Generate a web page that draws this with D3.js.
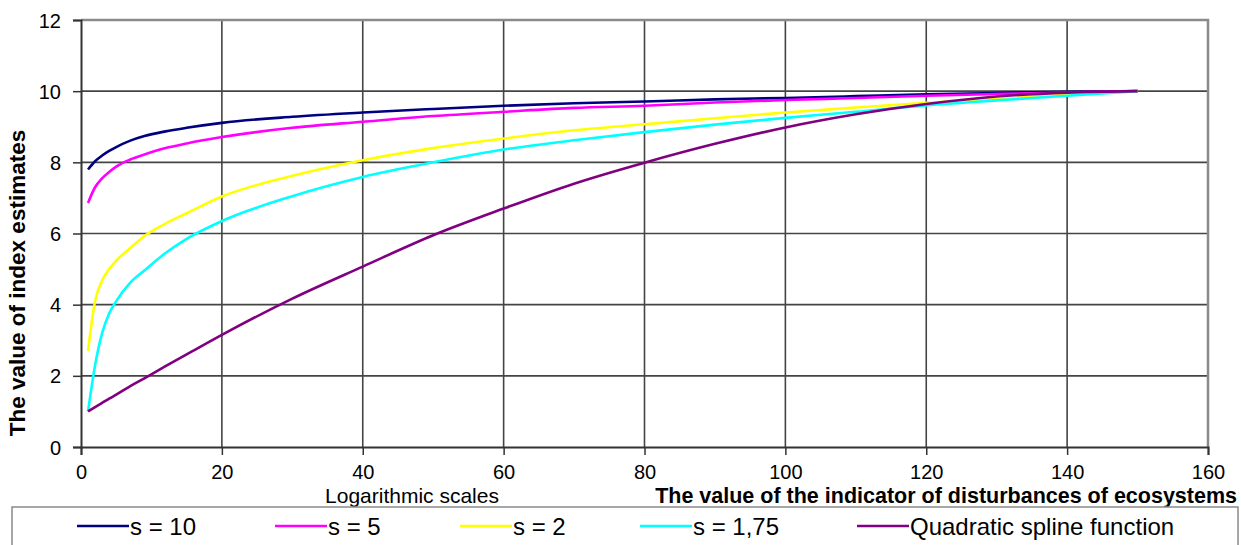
<!DOCTYPE html>
<html>
<head>
<meta charset="utf-8">
<script src="https://cdn.jsdelivr.net/npm/d3@7"></script>
<style>
  body { margin: 0; background: #fff; }
  svg { display: block; font-family: "Liberation Sans", Arial, sans-serif; }
</style>
</head>
<body>
<svg></svg>
<script>
const [WIDTH, HEIGHT] = [1241, 545]

// x values shared by all series
const xValues = [1, 2, 3, 4, 5, 7, 9, 12, 15, 20, 30, 40, 50, 60, 70, 80, 90, 100, 110, 120, 130, 140, 150]

const s10 = [7.80, 8.03, 8.19, 8.32, 8.43, 8.61, 8.74, 8.87, 8.97, 9.11, 9.28, 9.40, 9.50, 9.59, 9.66, 9.71, 9.77, 9.81, 9.86, 9.91, 9.95, 9.98, 10.0]
const s5 = [6.86, 7.30, 7.55, 7.73, 7.88, 8.08, 8.22, 8.40, 8.53, 8.71, 8.97, 9.14, 9.30, 9.42, 9.53, 9.59, 9.68, 9.75, 9.81, 9.87, 9.92, 9.96, 10.0]
const s2 = [2.70, 4.10, 4.68, 5.00, 5.24, 5.59, 5.93, 6.28, 6.57, 7.04, 7.62, 8.06, 8.40, 8.67, 8.90, 9.07, 9.24, 9.40, 9.54, 9.67, 9.78, 9.90, 10.0]
const s175 = [1.00, 2.30, 3.20, 3.75, 4.10, 4.62, 4.96, 5.45, 5.85, 6.35, 7.05, 7.59, 8.00, 8.36, 8.62, 8.85, 9.06, 9.25, 9.42, 9.60, 9.74, 9.87, 10.0]
const quadSpline = [1.00, 1.12, 1.24, 1.36, 1.47, 1.71, 1.93, 2.27, 2.60, 3.15, 4.17, 5.07, 5.95, 6.70, 7.40, 7.99, 8.52, 8.98, 9.35, 9.64, 9.85, 9.96, 10.0]

const seriesNames = ["s = 10", "s = 5", "s = 2", "s = 1,75", "Quadratic spline function"]
const seriesValues = [s10, s5, s2, s175, quadSpline]
const seriesColors = ["#000080", "#ff00ff", "#ffff00", "#00ffff", "#800080"]

const xTicks = [0, 20, 40, 60, 80, 100, 120, 140, 160]
const yTicks = [0, 2, 4, 6, 8, 10, 12]

const margin = { left: 81, right: 33, top: 20, bottom: 98 }

const svg = d3.select("svg")
    .attr("width", WIDTH)
    .attr("height", HEIGHT)

const x = d3.scaleLinear().domain([0, 160]).range([margin.left, WIDTH - margin.right])
const y = d3.scaleLinear().domain([0, 12]).range([HEIGHT - margin.bottom, margin.top])

// grid
const grid = svg.append("g")
grid.selectAll(".vgrid")
    .data(xTicks.slice(1, -1))
    .join("line")
    .attr("x1", d => x(d)).attr("x2", d => x(d))
    .attr("y1", y(0)).attr("y2", y(12))
    .attr("stroke", "#444").attr("stroke-width", 1.6)
grid.selectAll(".hgrid")
    .data(yTicks.slice(1, -1))
    .join("line")
    .attr("x1", x(0)).attr("x2", x(160))
    .attr("y1", d => y(d)).attr("y2", d => y(d))
    .attr("stroke", "#444").attr("stroke-width", 1.6)

// top and right frame
svg.append("path")
    .attr("d", `M${x(0)},${y(12)}H${x(160)}V${y(0)}`)
    .attr("fill", "none")
    .attr("stroke", "#8a8a8a")
    .attr("stroke-width", 2.5)

// axes
const xAxis = svg.append("g")
    .attr("transform", `translate(0,${y(0)})`)
    .call(d3.axisBottom(x).tickValues(xTicks).tickSize(8).tickPadding(10))
const yAxis = svg.append("g")
    .attr("transform", `translate(${x(0)},0)`)
    .call(d3.axisLeft(y).tickValues(yTicks).tickSize(8).tickPadding(12))

for (const ax of [xAxis, yAxis]) {
    ax.select(".domain").attr("stroke", "#333").attr("stroke-width", 2)
    ax.selectAll(".tick line").attr("stroke", "#333").attr("stroke-width", 1.5)
    ax.selectAll(".tick text")
        .attr("fill", "#000")
        .style("font-size", "20px")
        .style("font-family", "'Liberation Sans', Arial, sans-serif")
}
yAxis.selectAll(".tick text").attr("dy", "0.35em")

// lines
const line = d3.line()
    .x((d, i) => x(xValues[i]))
    .y(d => y(d))
    .curve(d3.curveMonotoneX)

svg.append("g")
    .selectAll("path")
    .data(seriesValues)
    .join("path")
    .attr("d", line)
    .attr("fill", "none")
    .attr("stroke", (d, i) => seriesColors[i])
    .attr("stroke-width", 2.6)

// axis titles
svg.append("text")
    .attr("transform", `translate(25,283) rotate(-90)`)
    .attr("text-anchor", "middle")
    .style("font-size", "22.5px")
    .style("font-weight", "bold")
    .text("The value of index estimates")

svg.append("text")
    .attr("x", 412).attr("y", 503)
    .attr("text-anchor", "middle")
    .style("font-size", "21px")
    .text("Logarithmic scales")

svg.append("text")
    .attr("x", 1237).attr("y", 503)
    .attr("text-anchor", "end")
    .style("font-size", "21.5px")
    .style("font-weight", "bold")
    .text("The value of the indicator of disturbances of ecosystems")

// legend
const legend = svg.append("g")
legend.append("rect")
    .attr("x", 12).attr("y", 507)
    .attr("width", 1226).attr("height", 44)
    .attr("fill", "#fff")
    .attr("stroke", "#8a8a8a")
    .attr("stroke-width", 1.5)

const legendX = [77, 275, 460, 640, 857]
const item = legend.selectAll(".item")
    .data(seriesNames)
    .join("g")
    .attr("transform", (d, i) => `translate(${legendX[i]},526)`)
item.append("line")
    .attr("x1", 0).attr("x2", 52)
    .attr("stroke", (d, i) => seriesColors[i])
    .attr("stroke-width", 2.6)
item.append("text")
    .attr("x", 53).attr("y", 9)
    .style("font-size", "24px")
    .text(d => d)
</script>
</body>
</html>
